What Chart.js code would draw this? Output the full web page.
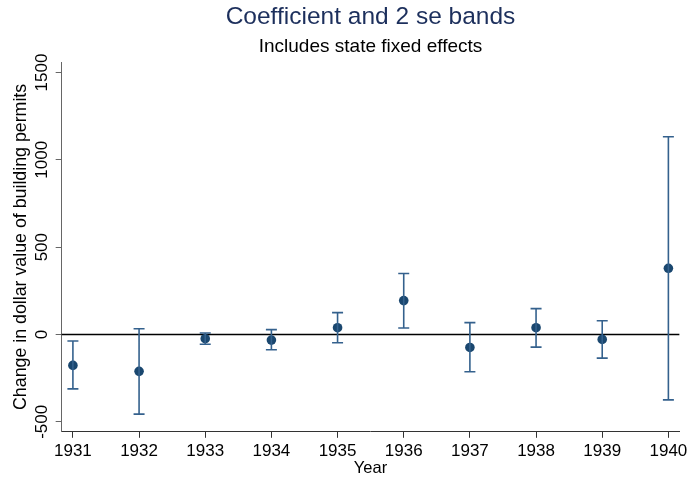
<!DOCTYPE html>
<html>
<head>
<meta charset="utf-8">
<script src="https://cdn.jsdelivr.net/npm/chart.js@4/dist/chart.umd.min.js"></script>
<style>
  html, body { margin: 0; padding: 0; background: #fff; }
  #wrap { width: 691px; height: 483px; }
</style>
</head>
<body>
<div id="wrap"><canvas id="chart" width="691" height="483"></canvas></div>
<script>
// data
const years = [1931, 1932, 1933, 1934, 1935, 1936, 1937, 1938, 1939, 1940];
const coef  = [-177, -211, -24, -32, 39, 194, -74, 39, -28, 379];
const upper = [-37, 33, 9, 28, 125, 349, 68, 148, 79, 1132];
const lower = [-311, -456, -56, -87, -47, 37, -213, -72, -135, -374];
const yTicks = [-500, 0, 500, 1000, 1500];

const navy = "#1a476f";
const barColor = "#34618d";
const font = "'Liberation Sans', Arial, Helvetica, sans-serif";

// stems: one line dataset, broken with nulls between years
const stems = [];
years.forEach((yr, i) => {
  stems.push({ x: yr, y: lower[i] }, { x: yr, y: upper[i] }, { x: yr, y: null });
});
const caps = [];
years.forEach((yr, i) => {
  caps.push({ x: yr, y: lower[i] }, { x: yr, y: upper[i] });
});

// zero reference line
const zeroLine = {
  id: "zeroLine",
  beforeDatasetsDraw(chart) {
    const { ctx, chartArea, scales } = chart;
    const y = scales.y.getPixelForValue(0);
    ctx.save();
    ctx.strokeStyle = "#000";
    ctx.lineWidth = 1.5;
    ctx.beginPath();
    ctx.moveTo(chartArea.left, y);
    ctx.lineTo(chartArea.right, y);
    ctx.stroke();
    ctx.restore();
  }
};

new Chart(document.getElementById("chart"), {
  type: "scatter",
  data: {
    datasets: [
      { data: stems, showLine: true, spanGaps: false, borderColor: barColor, borderWidth: 1.6, pointRadius: 0 },
      { data: caps, pointStyle: "line", pointRadius: 5.5, borderColor: barColor, pointBorderWidth: 1.6, backgroundColor: barColor },
      { data: years.map((yr, i) => ({ x: yr, y: coef[i] })), pointRadius: 4.8, backgroundColor: navy, borderColor: navy, borderWidth: 0 }
    ]
  },
  options: {
    responsive: false,
    animation: false,
    devicePixelRatio: 1,
    layout: { padding: { left: 1, right: 11, top: 0, bottom: 5 } },
    plugins: {
      legend: { display: false },
      tooltip: { enabled: false },
      title: {
        display: true, fullSize: false, text: "Coefficient and 2 se bands", color: "#1c2f5c",
        font: { family: font, size: 24.5, weight: "normal" }, padding: { top: 3, bottom: 2 }
      },
      subtitle: {
        display: true, fullSize: false, text: "Includes state fixed effects", color: "#000",
        font: { family: font, size: 19, weight: "normal" }, padding: { top: 1, bottom: 3.8 }
      }
    },
    scales: {
      x: {
        type: "linear", min: 1930.83, max: 1940.166,
        afterBuildTicks: s => { s.ticks = years.map(v => ({ value: v })); },
        ticks: { color: "#000", font: { family: font, size: 17 }, padding: 3.5, autoSkip: false, maxRotation: 0,
                 callback: v => String(v) },
        grid: { drawOnChartArea: false, drawTicks: true, tickLength: 6, color: "#333", tickWidth: 1 },
        border: { display: true, color: "#333", width: 1 },
        title: { display: true, text: "Year", color: "#000", font: { family: font, size: 16.5 }, padding: { top: -7, bottom: 0 } }
      },
      y: {
        type: "linear", min: -557, max: 1560,
        afterBuildTicks: s => { s.ticks = yTicks.map(v => ({ value: v })); },
        ticks: { color: "#000", font: { family: font, size: 17 }, minRotation: 90, maxRotation: 90,
                 crossAlign: "center", padding: -5.9, autoSkip: false, callback: v => String(v) },
        grid: { drawOnChartArea: false, drawTicks: true, tickLength: 6, color: "#666", tickWidth: 1 },
        border: { display: true, color: "#666", width: 1 },
        title: { display: true, text: "Change in dollar value of building permits", color: "#000",
                 font: { family: font, size: 17.8 }, padding: { top: 9, bottom: 15.7 } }
      }
    }
  },
  plugins: [zeroLine]
});
</script>
</body>
</html>
